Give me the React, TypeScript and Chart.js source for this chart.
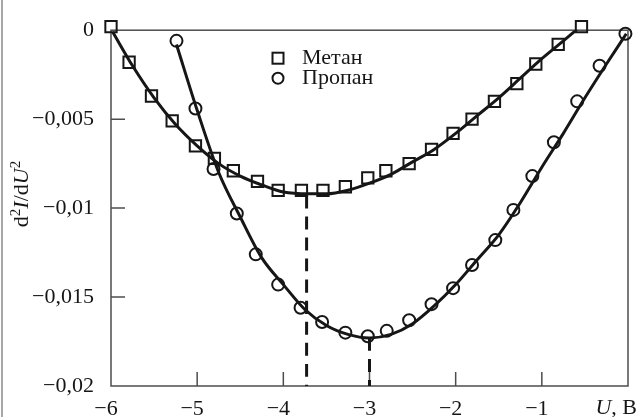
import React, { useEffect, useRef } from 'react';
import { Chart, registerables } from 'chart.js';

Chart.register(...registerables);

// ---- data ----
const methaneU = [-6.0, -5.79, -5.53, -5.29, -5.02, -4.8, -4.58, -4.3, -4.06, -3.79, -3.54, -3.28, -3.02, -2.81, -2.54, -2.28, -2.03, -1.81, -1.55, -1.29, -1.07, -0.81, -0.54];
const methaneY = [0.0002, -0.0018, -0.0037, -0.0051, -0.0065, -0.0072, -0.0079, -0.0085, -0.009, -0.009, -0.009, -0.0088, -0.0083, -0.0079, -0.0075, -0.0067, -0.0058, -0.005, -0.004, -0.003, -0.0019, -0.0008, 0.0002];

const propaneU = [-5.24, -5.02, -4.81, -4.54, -4.32, -4.06, -3.8, -3.55, -3.28, -3.02, -2.8, -2.54, -2.28, -2.03, -1.81, -1.54, -1.33, -1.11, -0.86, -0.59, -0.33, -0.03];
const propaneY = [-0.0006, -0.0044, -0.0078, -0.0103, -0.0126, -0.0143, -0.0156, -0.0164, -0.017, -0.0172, -0.0169, -0.0163, -0.0154, -0.0145, -0.0132, -0.0118, -0.0101, -0.0082, -0.0063, -0.004, -0.002, -0.0002];

const methaneFitU = [-5.98, -5.75, -5.5, -5.25, -5.0, -4.75, -4.5, -4.25, -4.0, -3.7, -3.5, -3.25, -3.0, -2.75, -2.5, -2.25, -2.0, -1.75, -1.5, -1.25, -1.0, -0.75, -0.58];
const methaneFitY = [-0.0001, -0.002, -0.0038, -0.0053, -0.0065, -0.0075, -0.0082, -0.0087, -0.0091, -0.0092, -0.0092, -0.009, -0.0086, -0.0081, -0.0074, -0.0067, -0.0058, -0.0048, -0.0038, -0.0027, -0.0016, -0.0006, 0.0001];

const propaneFitU = [-5.24, -5.0, -4.75, -4.5, -4.25, -4.0, -3.75, -3.5, -3.25, -3.0, -2.75, -2.5, -2.25, -2.0, -1.75, -1.5, -1.25, -1.0, -0.75, -0.5, -0.25, -0.02];
const propaneFitY = [-0.0008, -0.0045, -0.008, -0.0105, -0.0128, -0.0143, -0.0157, -0.0166, -0.0171, -0.0173, -0.0171, -0.0165, -0.0155, -0.0143, -0.0129, -0.0115, -0.0097, -0.0077, -0.0058, -0.0038, -0.0019, -0.0002];

const methaneMinU = -3.73;
const methaneMinY = -0.0093;
const propaneMinU = -3.0;
const propaneMinY = -0.0173;

const xTicks = [-6, -5, -4, -3, -2, -1, 0];
const xTickLabels = ['−6', '−5', '−4', '−3', '−2', '−1', ''];
const yTicks = [0, -0.005, -0.01, -0.015, -0.02];
const yTickLabels = ['0', '−0,005', '−0,01', '−0,015', '−0,02'];
const legendLabels = ['Метан', 'Пропан'];
const xUnitVar = 'U';
const xUnitRest = ', В';

const FONT = "'Liberation Serif', 'Times New Roman', serif";
const FS = 22;
const INK = '#161616';
const FRAME = '#4d4d4d';

const pts = (xs: number[], ys: number[]) => xs.map((x, i) => ({ x, y: ys[i] }));

const decorPlugin = {
  id: 'decor',
  beforeDatasetsDraw(chart: any) {
    const { ctx, chartArea: a, scales } = chart;
    const xs = scales.x;
    const ys = scales.y;
    ctx.save();
    ctx.strokeStyle = FRAME;
    ctx.lineWidth = 1.5;
    ctx.strokeRect(a.left, a.top, a.right - a.left, a.bottom - a.top);
    ctx.beginPath();
    xTicks.forEach((v) => {
      if (v === xTicks[0] || v === xTicks[xTicks.length - 1]) return;
      const px = xs.getPixelForValue(v);
      ctx.moveTo(px, a.bottom);
      ctx.lineTo(px, a.bottom - 14);
    });
    yTicks.forEach((v) => {
      if (v === yTicks[0] || v === yTicks[yTicks.length - 1]) return;
      const py = ys.getPixelForValue(v);
      ctx.moveTo(a.left, py);
      ctx.lineTo(a.left + 14, py);
    });
    ctx.stroke();
    // outer left border of the figure
    ctx.strokeStyle = '#8a8a8a';
    ctx.lineWidth = 1.5;
    ctx.beginPath();
    ctx.moveTo(2, 0);
    ctx.lineTo(2, chart.height);
    ctx.stroke();
    ctx.restore();
  },
  afterDraw(chart: any) {
    const { ctx, chartArea: a } = chart;
    ctx.save();
    ctx.fillStyle = INK;
    ctx.strokeStyle = INK;
    // legend
    const lx = a.left + 167;
    const ly1 = a.top + 28;
    const ly2 = a.top + 48;
    ctx.lineWidth = 2;
    ctx.strokeRect(lx - 5.5, ly1 - 5.5, 11, 11);
    ctx.beginPath();
    ctx.arc(lx, ly2, 5.5, 0, Math.PI * 2);
    ctx.stroke();
    ctx.font = `${FS}px ${FONT}`;
    ctx.textBaseline = 'middle';
    ctx.textAlign = 'left';
    ctx.fillText(legendLabels[0], lx + 24, ly1);
    ctx.fillText(legendLabels[1], lx + 24, ly2);

    // x unit label
    const uy = a.bottom + 22;
    ctx.font = `italic ${FS}px ${FONT}`;
    const uw = ctx.measureText(xUnitVar).width;
    ctx.font = `${FS}px ${FONT}`;
    const rw = ctx.measureText(xUnitRest).width;
    const ux = chart.width - 1 - uw - rw;
    ctx.font = `italic ${FS}px ${FONT}`;
    ctx.fillText(xUnitVar, ux, uy);
    ctx.font = `${FS}px ${FONT}`;
    ctx.fillText(xUnitRest, ux + uw, uy);

    // y title d²I/dU²
    const parts = [
      { t: 'd', f: `${FS}px ${FONT}`, dy: 0 },
      { t: '2', f: `15px ${FONT}`, dy: -8 },
      { t: 'I', f: `italic ${FS}px ${FONT}`, dy: 0 },
      { t: '/d', f: `${FS}px ${FONT}`, dy: 0 },
      { t: 'U', f: `italic ${FS}px ${FONT}`, dy: 0 },
      { t: '2', f: `15px ${FONT}`, dy: -8 },
    ];
    let total = 0;
    const widths = parts.map((p) => {
      ctx.font = p.f;
      const w = ctx.measureText(p.t).width;
      total += w;
      return w;
    });
    ctx.translate(21, 194);
    ctx.rotate(-Math.PI / 2);
    let cx = -total / 2;
    ctx.textBaseline = 'alphabetic';
    parts.forEach((p, i) => {
      ctx.font = p.f;
      ctx.fillText(p.t, cx, 7 + p.dy);
      cx += widths[i];
    });
    ctx.restore();
  },
};

export default function App() {
  const ref = useRef<HTMLCanvasElement>(null);

  useEffect(() => {
    if (!ref.current) return;
    const lineBase = {
      showLine: true,
      pointRadius: 0,
      borderColor: INK,
      borderWidth: 3,
      fill: false,
      tension: 0.4,
      cubicInterpolationMode: 'monotone' as const,
    };
    const chart = new Chart(ref.current, {
      type: 'scatter',
      data: {
        datasets: [
          { ...lineBase, data: pts(methaneFitU, methaneFitY) },
          { ...lineBase, data: pts(propaneFitU, propaneFitY) },
          {
            ...lineBase,
            tension: 0,
            borderDash: [13, 8],
            data: [
              { x: methaneMinU, y: methaneMinY },
              { x: methaneMinU, y: yTicks[yTicks.length - 1] },
            ],
          },
          {
            ...lineBase,
            tension: 0,
            borderDash: [13, 8],
            data: [
              { x: propaneMinU, y: propaneMinY },
              { x: propaneMinU, y: yTicks[yTicks.length - 1] },
            ],
          },
          {
            data: pts(methaneU, methaneY),
            showLine: false,
            pointStyle: 'rect',
            pointRadius: 8,
            pointBorderWidth: 2,
            pointBorderColor: INK,
            pointBackgroundColor: 'rgba(0,0,0,0)',
            clip: false,
          },
          {
            data: pts(propaneU, propaneY),
            showLine: false,
            pointStyle: 'circle',
            pointRadius: 6,
            pointBorderWidth: 2,
            pointBorderColor: INK,
            pointBackgroundColor: 'rgba(0,0,0,0)',
            clip: false,
          },
        ] as any,
      },
      options: {
        animation: false,
        responsive: false,
        devicePixelRatio: 1,
        layout: { padding: { left: 0, top: 25, right: 4, bottom: 0 } },
        plugins: { legend: { display: false }, tooltip: { enabled: false } },
        events: [],
        scales: {
          x: {
            type: 'linear',
            min: -6,
            max: 0,
            afterFit: (s: any) => {
              s.height = 31;
            },
            afterBuildTicks: (s: any) => {
              s.ticks = xTicks.map((v) => ({ value: v }));
            },
            grid: { display: false, drawTicks: false },
            border: { display: false },
            ticks: {
              padding: 10,
              labelOffset: -5,
              color: INK,
              font: { family: FONT, size: FS },
              maxRotation: 0,
              autoSkip: false,
              callback: (v: any) => {
                const i = xTicks.findIndex((t) => Math.abs(t - Number(v)) < 1e-9);
                return i >= 0 ? xTickLabels[i] : '';
              },
            },
          },
          y: {
            type: 'linear',
            min: -0.02,
            max: 0,
            afterFit: (s: any) => {
              s.width = 111;
            },
            afterBuildTicks: (s: any) => {
              s.ticks = yTicks.map((v) => ({ value: v }));
            },
            grid: { display: false, drawTicks: false },
            border: { display: false },
            ticks: {
              padding: 17,
              color: INK,
              font: { family: FONT, size: FS },
              autoSkip: false,
              callback: (v: any) => {
                const i = yTicks.findIndex((t) => Math.abs(t - Number(v)) < 1e-9);
                return i >= 0 ? yTickLabels[i] : '';
              },
            },
          },
        },
      } as any,
      plugins: [decorPlugin],
    });
    return () => chart.destroy();
  }, []);

  return (
    <div style={{ position: 'fixed', left: 0, top: 0, width: 638, height: 417, background: '#fff' }}>
      <canvas ref={ref} width={638} height={417} style={{ display: 'block' }} />
    </div>
  );
}
